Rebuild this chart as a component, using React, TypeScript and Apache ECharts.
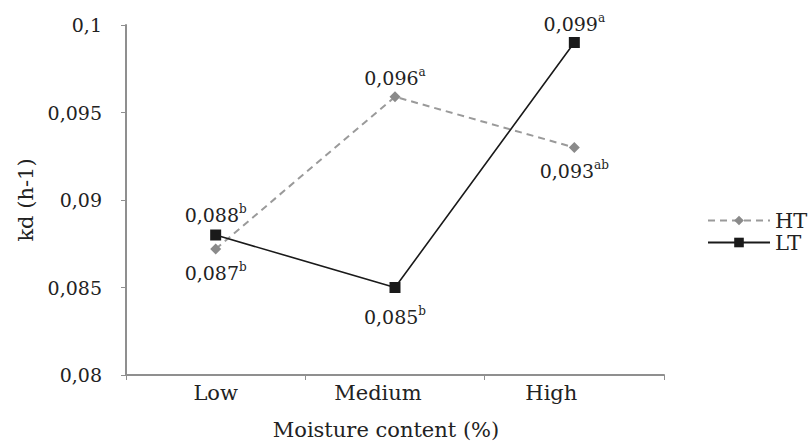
import React, { useEffect, useRef } from "react";
import * as echarts from "echarts";

const categories = ["Low", "Medium", "High"];
const htValues = [0.0872, 0.0959, 0.093];
const ltValues = [0.088, 0.085, 0.099];
const htLetters = ["b", "a", "ab"];
const ltLetters = ["b", "b", "a"];
const htLabelPos = ["bottom", "top", "bottom"];
const ltLabelPos = ["top", "bottom", "top"];
const htLabelGap = [6, 1, 6];
const ltLabelGap = [3, 12, 1];
const yTicks = [0.08, 0.085, 0.09, 0.095, 0.1];

const FONT = "DejaVu Serif";
const TEXT = "#222";

const fmt = (v: number) => parseFloat(v.toFixed(3)).toString().replace(".", ",");

// category label nudges (px shift of the label centre to the left)
const catShift: Record<string, number> = { Low: 0, Medium: 17, High: 23 };

export default function App() {
  const ref = useRef<HTMLDivElement>(null);

  useEffect(() => {
    document.body.style.margin = "0";
    if (!ref.current) return;
    const chart = echarts.init(ref.current, null, { renderer: "svg" });

    const rich = {
      v: { fontFamily: FONT, fontSize: 19, color: TEXT, lineHeight: 24 },
      s: { fontFamily: FONT, fontSize: 12, color: TEXT, lineHeight: 19, verticalAlign: "top" as const },
    };

    const makeData = (vals: number[], letters: string[], pos: string[], gaps: number[]) =>
      vals.map((v, i) => ({
        value: v,
        label: {
          show: true,
          position: pos[i],
          distance: gaps[i],
          formatter: `{v|${fmt(v)}}{s|${letters[i]}}`,
          rich,
        },
      }));

    const catRich: Record<string, any> = {};
    categories.forEach((c) => {
      catRich[c] = {
        fontFamily: FONT,
        fontSize: 21,
        color: TEXT,
        padding: [0, catShift[c] * 2, 0, 0],
      };
    });

    chart.setOption({
      animation: false,
      backgroundColor: "#fff",
      textStyle: { fontFamily: FONT },
      grid: { left: 126, right: 148, top: 25, bottom: 73, outerBoundsMode: "none" },
      legend: {
        orient: "vertical",
        left: 702,
        top: 205,
        itemWidth: 62,
        itemHeight: 12,
        itemGap: 1,
        textStyle: { fontFamily: FONT, fontSize: 21, color: TEXT },
        data: ["HT", "LT"],
      },
      xAxis: {
        type: "category",
        data: categories,
        name: "Moisture content (%)",
        nameLocation: "middle",
        nameGap: 44,
        nameTextStyle: { fontFamily: FONT, fontSize: 21, color: TEXT, padding: [0, 18, 0, 0] },
        axisLine: { lineStyle: { color: "#8f8f8f", width: 2 } },
        axisTick: { show: true, length: 5, lineStyle: { color: "#8f8f8f", width: 1 } },
        axisLabel: {
          margin: 7,
          formatter: (v: string) => `{${v}|${v}}`,
          rich: catRich,
        },
      },
      yAxis: {
        type: "value",
        min: 0.08,
        max: 0.1,
        interval: 0.005,
        name: "kd (h-1)",
        nameLocation: "middle",
        nameGap: 90,
        nameRotate: 90,
        nameTextStyle: { fontFamily: FONT, fontSize: 21, color: TEXT },
        splitLine: { show: false },
        axisLine: { show: true, lineStyle: { color: "#8f8f8f", width: 2 } },
        axisTick: { show: true, length: 5, lineStyle: { color: "#8f8f8f", width: 1 } },
        axisLabel: {
          margin: 24,
          fontFamily: FONT,
          fontSize: 19,
          color: TEXT,
          formatter: (v: number) => fmt(v),
          customValues: yTicks,
        },
      },
      series: [
        {
          name: "HT",
          type: "line",
          data: makeData(htValues, htLetters, htLabelPos, htLabelGap),
          symbol: "diamond",
          symbolSize: 11,
          itemStyle: { color: "#8a8a8a" },
          lineStyle: { color: "#9a9a9a", width: 2, type: [7, 5] },
          z: 2,
        },
        {
          name: "LT",
          type: "line",
          data: makeData(ltValues, ltLetters, ltLabelPos, ltLabelGap),
          symbol: "rect",
          symbolSize: 11,
          itemStyle: { color: "#1a1a1a" },
          lineStyle: { color: "#1a1a1a", width: 1.6 },
          z: 3,
        },
      ],
    });

    return () => chart.dispose();
  }, []);

  return <div ref={ref} style={{ width: 812, height: 448 }} />;
}
